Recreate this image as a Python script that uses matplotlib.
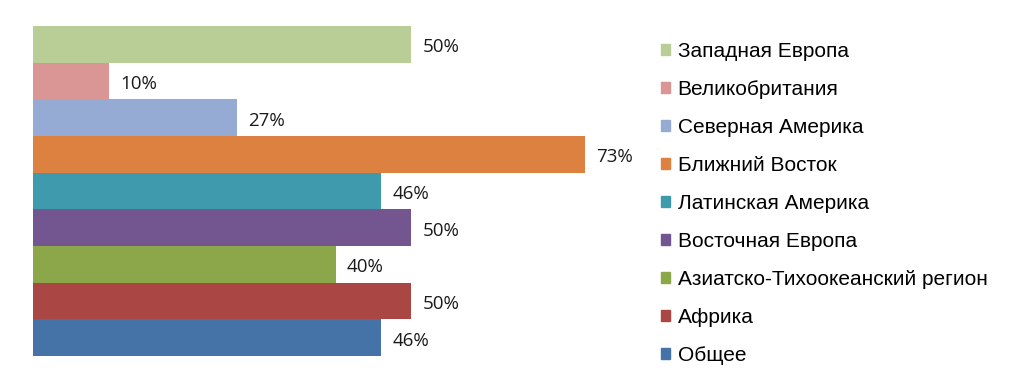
import matplotlib.pyplot as plt
from matplotlib.patches import Patch

regions = ["Западная Европа", "Великобритания", "Северная Америка", "Ближний Восток",
           "Латинская Америка", "Восточная Европа", "Азиатско-Тихоокеанский регион",
           "Африка", "Общее"]
values = [50, 10, 27, 73, 46, 50, 40, 50, 46]
colors = ["#B9CD96", "#D99694", "#95ABD3", "#DD8141", "#3F9AAE",
          "#735690", "#8BA74A", "#AA4643", "#4572A7"]

fig = plt.figure(figsize=(10.24, 3.88), dpi=100)
ax = fig.add_axes([33 / 1024, 32 / 388, 605 / 1024, 330 / 388])

n = len(values)
ypos = [n - 1 - i for i in range(n)]
ax.barh(ypos, values, height=1.0, color=colors)

for y, v in zip(ypos, values):
    ax.text(v + 1.5, y - 0.08, f"{v}%", va="center", ha="left", fontsize=13.5,
            family="Open Sans", color="#1a1a1a")

ax.set_xlim(0, 80)
ax.set_ylim(-0.5, n - 0.5)
ax.axis("off")

handles = [Patch(color=c, label=r) for c, r in zip(colors, regions)]
fig.legend(handles=handles, loc="upper left", bbox_to_anchor=(661 / 1024, 1 - 42 / 388),
           frameon=False, prop={"family": "Liberation Sans", "size": 15},
           handlelength=0.45, handleheight=0.45, handletextpad=0.35, labelspacing=0.91,
           borderaxespad=0, borderpad=0)

fig.savefig("out.png", dpi=100)
